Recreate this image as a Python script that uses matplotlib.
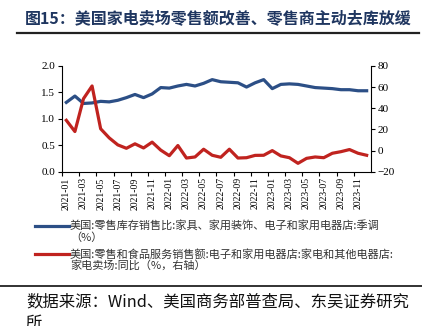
import numpy as np
import matplotlib
matplotlib.use("Agg")
import matplotlib.pyplot as plt
from matplotlib.lines import Line2D

plt.rcParams["font.family"] = ["Liberation Serif", "Noto Sans CJK SC"]

# ----------------------------------------------------------------------
# data (monthly, 2021-01 .. 2023-12)
months = [f"{y}-{m:02d}" for y in (2021, 2022, 2023) for m in range(1, 13)]
inv_sales_ratio = [
    1.31, 1.43, 1.29, 1.30, 1.33, 1.32, 1.35, 1.40, 1.46, 1.40, 1.47, 1.59,
    1.58, 1.62, 1.65, 1.62, 1.67, 1.74, 1.70, 1.69, 1.68, 1.60, 1.68, 1.74,
    1.57, 1.65, 1.66, 1.65, 1.62, 1.59, 1.58, 1.57, 1.55, 1.55, 1.53, 1.53,
]
sales_yoy = [
    28.6, 18.0, 49.0, 61.0, 20.6, 12.0, 5.4, 2.2, 6.4, 2.5, 8.0, 0.5,
    -4.8, 4.8, -7.0, -6.0, 1.3, -4.4, -6.3, 1.3, -7.0, -6.7, -4.5, -4.4,
    0.0, -5.0, -6.7, -12.0, -7.3, -6.0, -6.7, -2.5, -1.0, 1.0, -2.5, -4.4,
]
label_blue = ["美国:零售库存销售比:家具、家用装饰、电子和家用电器店:季调", "（%）"]
label_red = ["美国:零售和食品服务销售额:电子和家用电器店:家电和其他电器店:",
             "家电卖场:同比（%，右轴）"]
title = "图15：美国家电卖场零售额改善、零售商主动去库放缓"
source = ["数据来源：Wind、美国商务部普查局、东吴证券研究", "所"]

# ----------------------------------------------------------------------
blue = "#2c4f86"
red = "#c0231f"
navy = "#1f3660"
cjk = ["Noto Sans CJK SC", "DejaVu Sans"]
H = 326.0  # figure height in px, used to place the text rows

fig = plt.figure(figsize=(4.22, 3.26), dpi=100)
ax = fig.add_axes([0.147, 0.473, 0.732, 0.325])
ax2 = ax.twinx()

x = np.arange(len(months))
ax.plot(x, inv_sales_ratio, color=blue, lw=2.3, solid_joinstyle="round", zorder=3)
ax2.plot(x, sales_yoy, color=red, lw=2.3, solid_joinstyle="round", zorder=3)

ax.set_xlim(-0.5, len(months) - 0.5)
ax.set_ylim(0, 2.0)
ax.set_yticks(np.arange(0, 2.01, 0.5))
ax.set_yticklabels([f"{v:.1f}" for v in np.arange(0, 2.01, 0.5)])
ax2.set_ylim(-20, 80)
ax2.set_yticks(np.arange(-20, 81, 20))

# labels at every second month, tick marks on the category boundaries
ax.set_xticks(x[::2])
ax.set_xticklabels(months[::2], rotation=90, fontsize=7)
ax.set_xticks(x[::2] - 0.5, minor=True)
ax.tick_params(axis="x", which="major", length=0, pad=4)
ax.tick_params(axis="x", which="minor", length=3, direction="out", width=0.8)
ax.tick_params(axis="y", labelsize=8, length=3, direction="out", width=0.8, pad=2)
ax2.tick_params(axis="y", labelsize=8, length=3, direction="out", width=0.8, pad=2)

for a in (ax, ax2):
    a.spines["top"].set_visible(False)
    for s in ("left", "right", "bottom"):
        a.spines[s].set_linewidth(0.8)
ax.spines["right"].set_visible(False)
ax2.spines["left"].set_visible(False)
ax2.spines["bottom"].set_visible(False)

# title and rule
fig.text(25 / 422, 1 - 18 / H, title, fontsize=11.5, fontweight="bold", color=navy,
         family=cjk, va="center", ha="left")
fig.add_artist(Line2D([17 / 422, 419 / 422], [1 - 33 / H] * 2, color="#222222", lw=1.6))

# legend below the chart
legend_rows = ((225.5, blue, label_blue), (254.0, red, label_red))
for ypx, col, lines in legend_rows:
    yl = 1 - ypx / H
    fig.add_artist(Line2D([35 / 422, 69 / 422], [yl, yl], color=col, lw=2.3))
    for k, txt in enumerate(lines):
        fig.text(70 / 422, 1 - (ypx + k * 11.8) / H, txt, fontsize=8, family=cjk,
                 color="#333333", va="center", ha="left")

# source
fig.add_artist(Line2D([0.0, 1.0], [1 - 286 / H] * 2, color="#222222", lw=1.3))
for k, txt in enumerate(source):
    fig.text(26 / 422, 1 - (302 + k * 21) / H, txt, fontsize=11.8, family=cjk,
             color="#111111", va="center", ha="left")

fig.savefig("out.png", dpi=100)
